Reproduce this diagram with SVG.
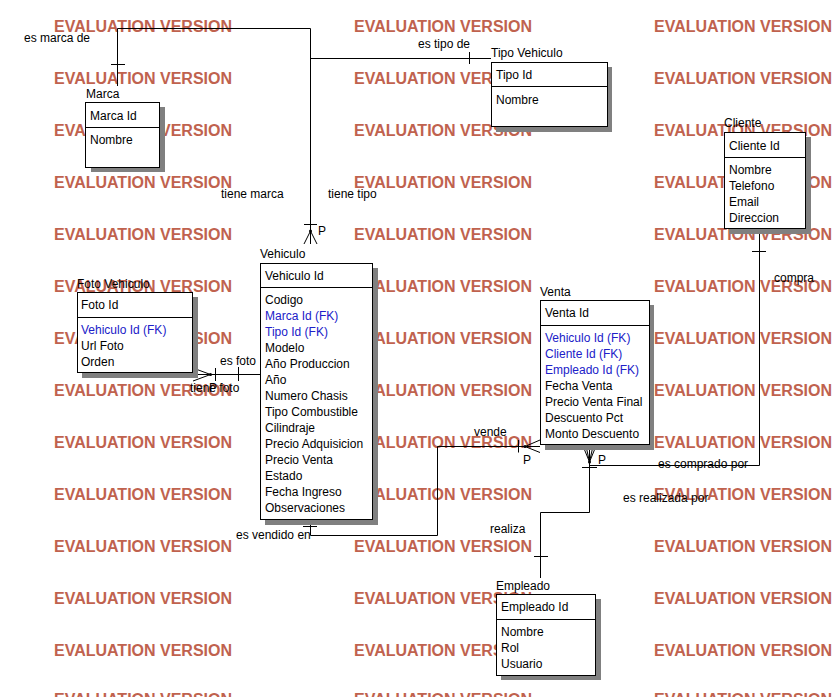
<svg xmlns="http://www.w3.org/2000/svg" width="839" height="697" viewBox="0 0 839 697">
<defs>
<style>
text{font-family:"Liberation Sans",Arial,sans-serif;font-size:12px;fill:#000}
.wm{font-size:16px;font-weight:bold;fill:#c0624e}
.fk{fill:#2020c8}
.box{fill:#fff;stroke:#000;stroke-width:1}
.shadow{fill:#808080;stroke:none}
.div{stroke:#000;stroke-width:1}
.ln{stroke:#000;stroke-width:1;fill:none}
</style>
</defs>
<rect width="839" height="697" fill="#fff"/>
<g id="watermark">
<text class="wm" x="54" y="32" textLength="178">EVALUATION VERSION</text>
<text class="wm" x="354" y="32" textLength="178">EVALUATION VERSION</text>
<text class="wm" x="654" y="32" textLength="178">EVALUATION VERSION</text>
<text class="wm" x="54" y="84" textLength="178">EVALUATION VERSION</text>
<text class="wm" x="354" y="84" textLength="178">EVALUATION VERSION</text>
<text class="wm" x="654" y="84" textLength="178">EVALUATION VERSION</text>
<text class="wm" x="54" y="136" textLength="178">EVALUATION VERSION</text>
<text class="wm" x="354" y="136" textLength="178">EVALUATION VERSION</text>
<text class="wm" x="654" y="136" textLength="178">EVALUATION VERSION</text>
<text class="wm" x="54" y="188" textLength="178">EVALUATION VERSION</text>
<text class="wm" x="354" y="188" textLength="178">EVALUATION VERSION</text>
<text class="wm" x="654" y="188" textLength="178">EVALUATION VERSION</text>
<text class="wm" x="54" y="240" textLength="178">EVALUATION VERSION</text>
<text class="wm" x="354" y="240" textLength="178">EVALUATION VERSION</text>
<text class="wm" x="654" y="240" textLength="178">EVALUATION VERSION</text>
<text class="wm" x="54" y="292" textLength="178">EVALUATION VERSION</text>
<text class="wm" x="354" y="292" textLength="178">EVALUATION VERSION</text>
<text class="wm" x="654" y="292" textLength="178">EVALUATION VERSION</text>
<text class="wm" x="54" y="344" textLength="178">EVALUATION VERSION</text>
<text class="wm" x="354" y="344" textLength="178">EVALUATION VERSION</text>
<text class="wm" x="654" y="344" textLength="178">EVALUATION VERSION</text>
<text class="wm" x="54" y="396" textLength="178">EVALUATION VERSION</text>
<text class="wm" x="354" y="396" textLength="178">EVALUATION VERSION</text>
<text class="wm" x="654" y="396" textLength="178">EVALUATION VERSION</text>
<text class="wm" x="54" y="448" textLength="178">EVALUATION VERSION</text>
<text class="wm" x="354" y="448" textLength="178">EVALUATION VERSION</text>
<text class="wm" x="654" y="448" textLength="178">EVALUATION VERSION</text>
<text class="wm" x="54" y="500" textLength="178">EVALUATION VERSION</text>
<text class="wm" x="354" y="500" textLength="178">EVALUATION VERSION</text>
<text class="wm" x="654" y="500" textLength="178">EVALUATION VERSION</text>
<text class="wm" x="54" y="552" textLength="178">EVALUATION VERSION</text>
<text class="wm" x="354" y="552" textLength="178">EVALUATION VERSION</text>
<text class="wm" x="654" y="552" textLength="178">EVALUATION VERSION</text>
<text class="wm" x="54" y="604" textLength="178">EVALUATION VERSION</text>
<text class="wm" x="354" y="604" textLength="178">EVALUATION VERSION</text>
<text class="wm" x="654" y="604" textLength="178">EVALUATION VERSION</text>
<text class="wm" x="54" y="656" textLength="178">EVALUATION VERSION</text>
<text class="wm" x="354" y="656" textLength="178">EVALUATION VERSION</text>
<text class="wm" x="654" y="656" textLength="178">EVALUATION VERSION</text>
<text class="wm" x="54" y="705" textLength="178">EVALUATION VERSION</text>
<text class="wm" x="354" y="705" textLength="178">EVALUATION VERSION</text>
<text class="wm" x="654" y="705" textLength="178">EVALUATION VERSION</text>
</g>
<g id="connectors">
<!-- Marca - Vehiculo -->
<polyline class="ln" points="117.5,86 117.5,28.5 310.5,28.5 310.5,244"/>
<line class="ln" x1="111" y1="64.5" x2="125" y2="64.5"/>
<!-- Tipo - Vehiculo -->
<line class="ln" x1="310.5" y1="58.5" x2="491" y2="58.5"/>
<line class="ln" x1="469.5" y1="52" x2="469.5" y2="64"/>
<line class="ln" x1="304" y1="224.5" x2="317" y2="224.5"/>
<polyline class="ln" points="304,244 310.5,231 317,244"/>
<circle cx="310.5" cy="231" r="1.5"/>
<!-- Foto - Vehiculo -->
<line class="ln" x1="193" y1="374.5" x2="260" y2="374.5"/>
<polyline class="ln" points="193,368 210.5,374.5 193,381"/>
<circle cx="210.5" cy="374.5" r="1.5"/>
<line class="ln" x1="215.5" y1="368" x2="215.5" y2="381"/>
<line class="ln" x1="238.5" y1="367" x2="238.5" y2="381"/>
<!-- Vehiculo - Venta -->
<polyline class="ln" points="310.5,519 310.5,535.5 437.5,535.5 437.5,446.5 540,446.5"/>
<line class="ln" x1="303" y1="526.5" x2="317" y2="526.5"/>
<line class="ln" x1="518.5" y1="440" x2="518.5" y2="452.5"/>
<polyline class="ln" points="540,440 525,446.5 540,452.5"/>
<circle cx="525" cy="446.5" r="1.5"/>
<!-- Cliente - Venta -->
<polyline class="ln" points="759.5,229 759.5,465.5 589.5,465.5"/>
<line class="ln" x1="752" y1="251.5" x2="766" y2="251.5"/>
<!-- Empleado - Venta -->
<polyline class="ln" points="540.5,578 540.5,512.5 589.5,512.5 589.5,445"/>
<line class="ln" x1="534" y1="556.5" x2="548" y2="556.5"/>
<line class="ln" x1="582" y1="467.5" x2="597" y2="467.5"/>
<polyline class="ln" points="583,446 589.5,462 596,446"/>
<polyline class="ln" points="586,446 589.5,462 593,446"/>
<circle cx="589.5" cy="462" r="1.5"/>
<!-- labels -->
<text x="24" y="42">es marca de</text>
<text x="418" y="48">es tipo de</text>
<text x="221" y="198">tiene marca</text>
<text x="328" y="198">tiene tipo</text>
<text x="318" y="235">P</text>
<text x="220" y="365">es foto</text>
<text x="190" y="391.5">tiene foto</text>
<text x="209" y="391.5">P</text>
<text x="474" y="436">vende</text>
<text x="523" y="464">P</text>
<text x="236" y="539">es vendido en</text>
<text x="774" y="282">compra</text>
<text x="658" y="468">es comprado por</text>
<text x="598" y="464">P</text>
<text x="623" y="502">es realizada por</text>
<text x="490" y="533">realiza</text>
</g>
<g id="marca">
<text x="86" y="98">Marca</text>
<rect class="shadow" x="91" y="107" width="74" height="65"/>
<rect class="box" x="85.5" y="102.5" width="74" height="65"/>
<line class="div" x1="85.5" y1="127.5" x2="159.5" y2="127.5"/>
<text x="90" y="119.5">Marca Id</text>
<text x="90" y="144">Nombre</text>
</g>
<g id="tipo-vehiculo">
<text x="491" y="57">Tipo Vehiculo</text>
<rect class="shadow" x="496" y="67" width="116" height="65"/>
<rect class="box" x="491.5" y="62.5" width="116" height="64"/>
<line class="div" x1="491.5" y1="86.5" x2="607.5" y2="86.5"/>
<text x="496" y="78.5">Tipo Id</text>
<text x="496" y="103.5">Nombre</text>
</g>
<g id="cliente">
<text x="724" y="127">Cliente</text>
<rect class="shadow" x="729" y="137" width="82" height="97"/>
<rect class="box" x="724.5" y="132.5" width="81" height="96"/>
<line class="div" x1="724.5" y1="157.5" x2="805.5" y2="157.5"/>
<text x="729" y="149.5">Cliente Id</text>
<text x="729" y="174">Nombre</text>
<text x="729" y="190">Telefono</text>
<text x="729" y="206">Email</text>
<text x="729" y="222">Direccion</text>
</g>
<g id="vehiculo">
<text x="260" y="258">Vehiculo</text>
<rect class="shadow" x="265" y="268" width="113" height="257"/>
<rect class="box" x="260.5" y="263.5" width="112" height="256"/>
<line class="div" x1="260.5" y1="287.5" x2="372.5" y2="287.5"/>
<text x="265" y="279.5">Vehiculo Id</text>
<text x="265" y="304">Codigo</text>
<text class="fk" x="265" y="320">Marca Id (FK)</text>
<text class="fk" x="265" y="336">Tipo Id (FK)</text>
<text x="265" y="352">Modelo</text>
<text x="265" y="368">Año Produccion</text>
<text x="265" y="384">Año</text>
<text x="265" y="400">Numero Chasis</text>
<text x="265" y="416">Tipo Combustible</text>
<text x="265" y="432">Cilindraje</text>
<text x="265" y="448">Precio Adquisicion</text>
<text x="265" y="464">Precio Venta</text>
<text x="265" y="480">Estado</text>
<text x="265" y="496">Fecha Ingreso</text>
<text x="265" y="512">Observaciones</text>
</g>
<g id="foto-vehiculo">
<text x="77" y="288">Foto Vehiculo</text>
<rect class="shadow" x="82" y="297" width="116" height="81"/>
<rect class="box" x="77.5" y="292.5" width="115" height="80"/>
<line class="div" x1="77.5" y1="317.5" x2="192.5" y2="317.5"/>
<text x="81" y="309">Foto Id</text>
<text class="fk" x="81" y="334">Vehiculo Id (FK)</text>
<text x="81" y="350">Url Foto</text>
<text x="81" y="366">Orden</text>
</g>
<g id="venta">
<text x="540" y="296">Venta</text>
<rect class="shadow" x="545" y="305" width="109" height="145"/>
<rect class="box" x="540.5" y="300.5" width="109" height="144"/>
<line class="div" x1="540.5" y1="325.5" x2="649.5" y2="325.5"/>
<text x="545" y="317">Venta Id</text>
<text class="fk" x="545" y="342">Vehiculo Id (FK)</text>
<text class="fk" x="545" y="358">Cliente Id (FK)</text>
<text class="fk" x="545" y="374">Empleado Id (FK)</text>
<text x="545" y="390">Fecha Venta</text>
<text x="545" y="406">Precio Venta Final</text>
<text x="545" y="422">Descuento Pct</text>
<text x="545" y="438">Monto Descuento</text>
</g>
<g id="empleado">
<text x="496" y="590">Empleado</text>
<rect class="shadow" x="501" y="599" width="100" height="81"/>
<rect class="box" x="496.5" y="594.5" width="99" height="81"/>
<line class="div" x1="496.5" y1="619.5" x2="595.5" y2="619.5"/>
<text x="501" y="611">Empleado Id</text>
<text x="501" y="636">Nombre</text>
<text x="501" y="652">Rol</text>
<text x="501" y="668">Usuario</text>
</g>
</svg>
